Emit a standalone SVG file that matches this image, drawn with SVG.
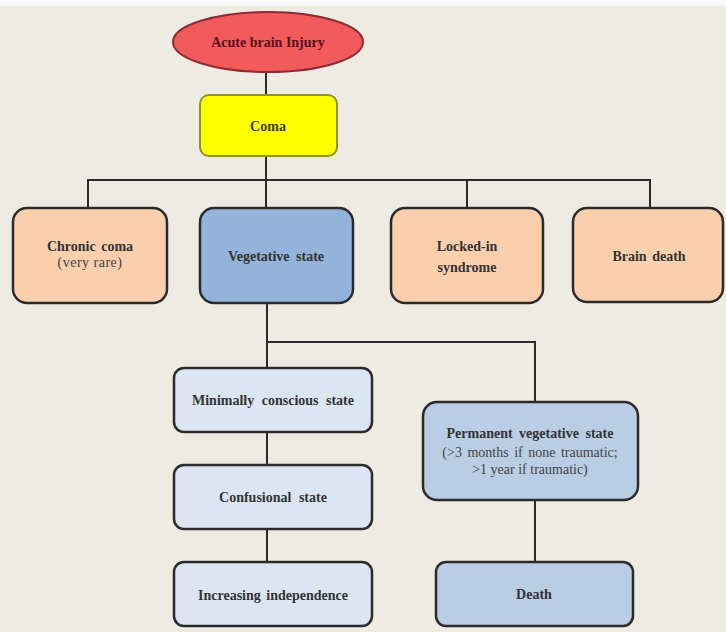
<svg xmlns="http://www.w3.org/2000/svg" width="726" height="632" viewBox="0 0 726 632">
<style>
.box{stroke:#2b2b2b;stroke-width:2.5}
.t{font-family:"Liberation Serif","Times New Roman",serif;font-weight:bold;font-size:14px;fill:#333;text-anchor:middle}
.s{font-family:"Liberation Serif","Times New Roman",serif;font-size:14px;fill:#444;text-anchor:middle}
.c{fill:none;stroke:#2b2b2b;stroke-width:2}
</style>
<rect x="0" y="0" width="726" height="632" fill="#EEEBE2"/>
<rect x="0" y="0" width="726" height="6" fill="#FAFAF8"/>
<g id="connectors">
<path class="c" d="M266,72 V95"/>
<path class="c" d="M266,156 V180 M88,208 V180 H650 V208 M266,180 V208 M467,180 V208"/>
<path class="c" d="M267,303 V368 M267,342 H535 V402"/>
<path class="c" d="M267,432 V465 M267,529 V562"/>
<path class="c" d="M535,500 V562"/>
</g>
<g id="acute">
<ellipse cx="268" cy="42" rx="95" ry="30" fill="#F25B5C" stroke="#8E2A35" stroke-width="2"/>
<text class="t" x="268" y="47" style="fill:#5A0E1C">Acute brain Injury</text>
</g>
<g id="coma">
<rect x="200" y="95" width="137" height="61" rx="9" fill="#FFFF00" stroke="#8F8F2E" stroke-width="2"/>
<text class="t" x="268" y="131" style="fill:#3E3A10">Coma</text>
</g>
<g id="chronic">
<rect class="box" x="13" y="208" width="154" height="95" rx="14" fill="#F9CFAE"/>
<text class="t" x="90" y="251" style="word-spacing:2px">Chronic coma</text>
<text class="s" x="90" y="267" style="letter-spacing:0.5px">(very rare)</text>
</g>
<g id="vegetative">
<rect class="box" x="200" y="208" width="153" height="95" rx="14" fill="#94B3DA"/>
<text class="t" x="276" y="261" style="word-spacing:3px">Vegetative state</text>
</g>
<g id="locked">
<rect class="box" x="391" y="208" width="152" height="95" rx="14" fill="#F9CFAE"/>
<text class="t" x="467" y="251">Locked-in</text>
<text class="t" x="467" y="272">syndrome</text>
</g>
<g id="braindeath">
<rect class="box" x="573" y="208" width="150" height="94" rx="14" fill="#F9CFAE"/>
<text class="t" x="649" y="261" style="word-spacing:2px">Brain death</text>
</g>
<g id="minimally">
<rect class="box" x="174" y="368" width="198" height="64" rx="10" fill="#DCE6F2"/>
<text class="t" x="273" y="405" style="word-spacing:4px">Minimally conscious state</text>
</g>
<g id="confusional">
<rect class="box" x="174" y="465" width="198" height="64" rx="10" fill="#DCE6F2"/>
<text class="t" x="273" y="502" style="word-spacing:4px">Confusional state</text>
</g>
<g id="increasing">
<rect class="box" x="174" y="562" width="198" height="64" rx="10" fill="#DCE6F2"/>
<text class="t" x="273" y="600" style="word-spacing:2px">Increasing independence</text>
</g>
<g id="permanent">
<rect class="box" x="423" y="402" width="215" height="98" rx="14" fill="#B9CDE5"/>
<text class="t" x="530" y="438" style="word-spacing:3px">Permanent vegetative state</text>
<text class="s" x="530" y="457" style="word-spacing:2px">(&gt;3 months if none traumatic;</text>
<text class="s" x="530" y="474">&gt;1 year if traumatic)</text>
</g>
<g id="death">
<rect class="box" x="436" y="562" width="197" height="64" rx="10" fill="#B9CDE5"/>
<text class="t" x="534" y="599">Death</text>
</g>
</svg>
